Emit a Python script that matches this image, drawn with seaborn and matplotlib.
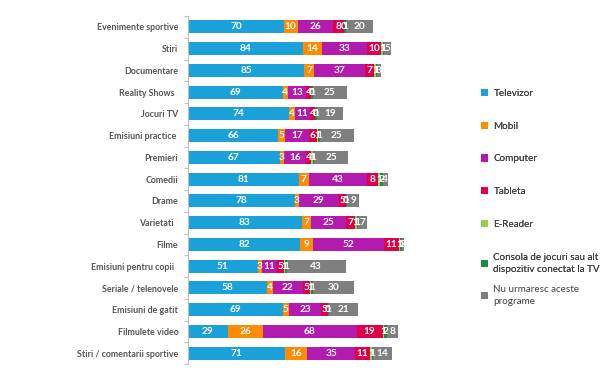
import numpy as np
import pandas as pd
import matplotlib
matplotlib.use("Agg")
import matplotlib.pyplot as plt
from matplotlib.patches import Patch
from matplotlib.ticker import FixedLocator
import seaborn as sns

categories = ["Evenimente sportive", "Stiri", "Documentare", "Reality Shows  ", "Jocuri TV",
              "Emisiuni practice ", "Premieri", "Comedii", "Drame", "Varietati  ", "Filme",
              "Emisiuni pentru copii  ", "Seriale / telenovele", "Emisiuni de gatit",
              "Filmulete video", "Stiri / comentarii sportive"]
series_names = ["Televizor", "Mobil", "Computer", "Tableta", "E-Reader",
                "Consola de jocuri sau alt\ndispozitiv conectat la TV",
                "Nu urmaresc aceste\nprograme"]
televizor = [70, 84, 85, 69, 74, 66, 67, 81, 78, 83, 82, 51, 58, 69, 29, 71]
mobil     = [10, 14, 7, 4, 4, 5, 3, 7, 3, 7, 9, 3, 4, 5, 26, 16]
computer  = [26, 33, 37, 13, 11, 17, 16, 43, 29, 25, 52, 11, 22, 23, 68, 35]
tableta   = [8, 10, 7, 4, 4, 6, 4, 8, 5, 7, 11, 5, 5, 5, 19, 11]
ereader   = [0, 1, 1, 0, 0, 1, 1, 1, 0, 1, 1, 1, 1, 0, 1, 1]
consola   = [1, 1, 1, 1, 1, 1, 1, 2, 1, 1, 1, 1, 1, 1, 2, 1]
nu        = [20, 5, 3, 25, 19, 25, 25, 4, 9, 7, 2, 43, 30, 21, 8, 14]
colors = ["#1BA1DA", "#FF8B00", "#B31BAE", "#E0004A", "#92D050", "#1E8C3C", "#7F7F7F"]

series = [televizor, mobil, computer, tableta, ereader, consola, nu]
vals = np.array(series, dtype=float)
cums = np.cumsum(vals, axis=0)

FONT = "Lato"

fig = plt.figure(figsize=(6.12, 3.70), dpi=100)
ax = fig.add_axes([188/612, 1 - 364/370, 274/612, 348/370])

# draw from the largest cumulative to the smallest so segments stack
for i in range(len(series) - 1, -1, -1):
    df = pd.DataFrame({"cat": categories, "val": cums[i]})
    sns.barplot(data=df, y="cat", x="val", order=categories, color=colors[i],
                width=0.6, saturation=1, ax=ax, edgecolor="none", linewidth=0)

for i in range(len(series)):
    for j, cat in enumerate(categories):
        v = vals[i, j]
        c = cums[i, j] - v / 2
        ax.text(c, j, f"{int(v)}", ha="center", va="center", color="white",
                fontsize=7.3, fontweight="bold", family=FONT)

ax.set_xlim(0, 200)
ax.set_ylim(len(categories) - 0.5, -0.5)
ax.set_xlabel("")
ax.set_ylabel("")
ax.set_xticks([])
for s in ["top", "right", "bottom"]:
    ax.spines[s].set_visible(False)
ax.spines["left"].set_color("#BFBFBF")
ax.spines["left"].set_linewidth(0.8)
ax.tick_params(axis="y", which="major", length=0, pad=7)
ax.yaxis.set_minor_locator(FixedLocator(np.arange(-0.5, len(categories), 1.0)))
ax.tick_params(axis="y", which="minor", length=3, color="#BFBFBF", width=0.8)
for lab in ax.get_yticklabels():
    lab.set_fontsize(6.4)
    lab.set_fontweight("bold")
    lab.set_color("#555555")
    lab.set_family(FONT)

handles = [Patch(facecolor=c, edgecolor="none") for c in colors]
common = dict(frameon=False, prop={"family": FONT, "size": 7.1},
              handlelength=0.75, handleheight=0.75, handletextpad=0.5,
              labelcolor="#404040", borderpad=0, borderaxespad=0)
leg1 = fig.legend(handles[:6], series_names[:6], loc="upper left",
                  bbox_to_anchor=(481/612, 1 - 89/370), labelspacing=2.4, **common)
for t in leg1.get_texts():
    t.set_linespacing(1.45)
fig.add_artist(leg1)
leg2 = fig.legend(handles[6:], series_names[6:], loc="upper left",
                  bbox_to_anchor=(481/612, 1 - 285/370), **common)
for t in leg2.get_texts():
    t.set_linespacing(1.45)

fig.savefig("out.png", dpi=100)
